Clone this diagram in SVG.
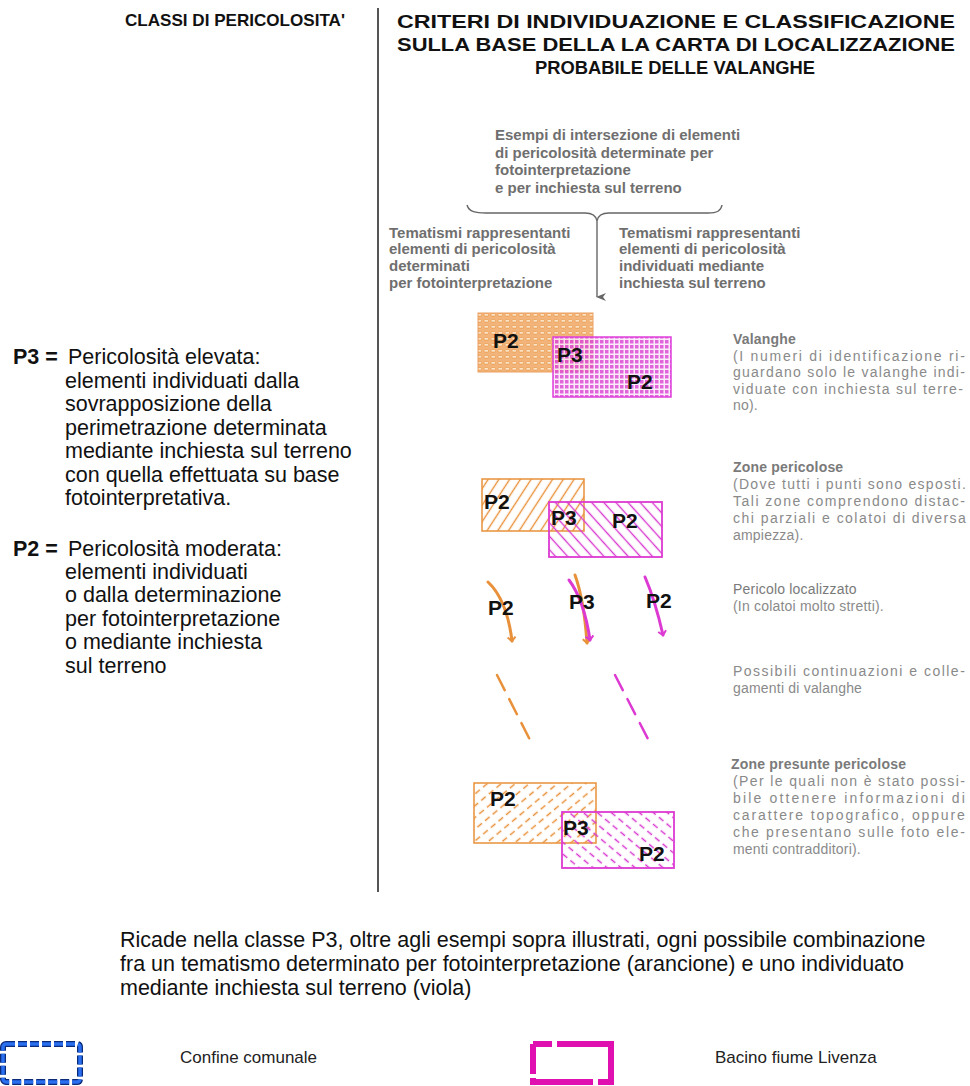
<svg xmlns="http://www.w3.org/2000/svg" width="970" height="1086" viewBox="0 0 970 1086">
<style>
.hdr{font-family:"Liberation Sans",Arial,sans-serif;font-weight:bold;font-size:17px;fill:#111}
.hdr2{font-family:"Liberation Sans",Arial,sans-serif;font-weight:bold;font-size:19px;fill:#111}
.lt{font-family:"Liberation Sans",Arial,sans-serif;font-size:21.5px;fill:#111}
.b{font-weight:bold}
.gb{font-family:"Liberation Sans",Arial,sans-serif;font-weight:bold;font-size:15px;fill:#6f6f6f}
.gt{font-family:"Liberation Sans",Arial,sans-serif;font-weight:bold;font-size:14px;fill:#7a7a7a;letter-spacing:0.2px}
.gx{font-family:"Liberation Sans",Arial,sans-serif;font-size:14px;fill:#8a8a8a;letter-spacing:0.2px}
.pl{font-family:"Liberation Sans",Arial,sans-serif;font-weight:bold;font-size:21px;fill:#111}
.leg{font-family:"Liberation Sans",Arial,sans-serif;font-size:17px;fill:#222}
</style>
<defs>
<pattern id="dotsO" width="7" height="6" patternUnits="userSpaceOnUse">
<rect width="7" height="6" fill="#f2b47a"/>
<rect x="1" y="1.5" width="4.5" height="2.6" rx="1" fill="#fbe3c8" stroke="#e8923e" stroke-width="0.6"/>
</pattern>
<pattern id="gridM" width="5" height="5" patternUnits="userSpaceOnUse">
<rect width="5" height="5" fill="#fae6f8"/>
<rect width="3.5" height="3.5" fill="#dc4ad4"/>
</pattern>
<pattern id="hatchO" width="9" height="10" patternUnits="userSpaceOnUse" patternTransform="rotate(33)">
<line x1="4.5" y1="0" x2="4.5" y2="10" stroke="#e8913a" stroke-width="1.4"/>
</pattern>
<pattern id="hatchM" width="9" height="10" patternUnits="userSpaceOnUse" patternTransform="rotate(-42)">
<line x1="4.5" y1="0" x2="4.5" y2="10" stroke="#d83ad0" stroke-width="1.4"/>
</pattern>
<pattern id="dashO" width="9" height="10" patternUnits="userSpaceOnUse" patternTransform="rotate(50)">
<line x1="4.5" y1="0" x2="4.5" y2="6" stroke="#e8913a" stroke-width="1.5"/>
</pattern>
<pattern id="dashM" width="9" height="10" patternUnits="userSpaceOnUse" patternTransform="rotate(-50)">
<line x1="4.5" y1="0" x2="4.5" y2="6" stroke="#d83ad0" stroke-width="1.5"/>
</pattern>
<marker id="ahG" markerWidth="8" markerHeight="10" refX="4" refY="9" orient="auto-start-reverse" markerUnits="userSpaceOnUse" viewBox="0 0 8 10">
<path d="M0,0 L4,10 L8,0 L4,3 Z" fill="#666"/>
</marker>
<marker id="ahO" markerWidth="10" markerHeight="10" refX="5" refY="5" orient="auto" markerUnits="userSpaceOnUse" viewBox="0 0 10 10">
<path d="M1,1 L5,5 L1,9" fill="none" stroke="#e8913a" stroke-width="2"/>
</marker>
<marker id="ahM" markerWidth="10" markerHeight="10" refX="5" refY="5" orient="auto" markerUnits="userSpaceOnUse" viewBox="0 0 10 10">
<path d="M1,1 L5,5 L1,9" fill="none" stroke="#dc3ad2" stroke-width="2"/>
</marker>
</defs>
<rect width="970" height="1086" fill="#ffffff"/>

<g id="headers">
<text class="hdr" x="235" y="26" text-anchor="middle" textLength="220" lengthAdjust="spacingAndGlyphs">CLASSI DI PERICOLOSITA'</text>
<text class="hdr2" x="676" y="28" text-anchor="middle" textLength="558" lengthAdjust="spacingAndGlyphs">CRITERI DI INDIVIDUAZIONE E CLASSIFICAZIONE</text>
<text class="hdr2" x="676" y="51" text-anchor="middle" textLength="558" lengthAdjust="spacingAndGlyphs">SULLA BASE DELLA LA CARTA DI LOCALIZZAZIONE</text>
<text class="hdr2" x="675" y="74" text-anchor="middle" textLength="280" lengthAdjust="spacingAndGlyphs">PROBABILE DELLE VALANGHE</text>
</g>

<g id="divider">
<line x1="378" y1="8" x2="378" y2="892" stroke="#555" stroke-width="2"/>
</g>

<g id="legend-left">
<text class="lt" x="13" y="364"><tspan class="b">P3 =</tspan><tspan x="68">Pericolosità elevata:</tspan></text>
<text class="lt" x="65" y="388">elementi individuati dalla</text>
<text class="lt" x="65" y="411">sovrapposizione della</text>
<text class="lt" x="65" y="435">perimetrazione determinata</text>
<text class="lt" x="65" y="458">mediante inchiesta sul terreno</text>
<text class="lt" x="65" y="482">con quella effettuata su base</text>
<text class="lt" x="65" y="505">fotointerpretativa.</text>
<text class="lt" x="13" y="556"><tspan class="b">P2 =</tspan><tspan x="68">Pericolosità moderata:</tspan></text>
<text class="lt" x="65" y="579">elementi individuati</text>
<text class="lt" x="65" y="602">o dalla determinazione</text>
<text class="lt" x="65" y="626">per fotointerpretazione</text>
<text class="lt" x="65" y="649">o mediante inchiesta</text>
<text class="lt" x="65" y="673">sul terreno</text>
</g>

<g id="brace-block">
<text class="gb" x="495" y="140">Esempi di intersezione di elementi</text>
<text class="gb" x="495" y="158">di pericolosità determinate per</text>
<text class="gb" x="495" y="175">fotointerpretazione</text>
<text class="gb" x="495" y="193">e per inchiesta sul terreno</text>
<text class="gb" x="389" y="238">Tematismi rappresentanti</text>
<text class="gb" x="389" y="254">elementi di pericolosità</text>
<text class="gb" x="389" y="271">determinati</text>
<text class="gb" x="389" y="288">per fotointerpretazione</text>
<text class="gb" x="619" y="238">Tematismi rappresentanti</text>
<text class="gb" x="619" y="254">elementi di pericolosità</text>
<text class="gb" x="619" y="271">individuati mediante</text>
<text class="gb" x="619" y="288">inchiesta sul terreno</text>
</g>

<g id="connectors">
<path d="M467,205 C469,212 476,213 486,213 L585,213 C592,213 596,215 597,221 C598,215 602,213 609,213 L708,213 C717,213 721,211 722,205" fill="none" stroke="#666" stroke-width="1.4"/>
<line x1="597" y1="221" x2="597" y2="297" stroke="#666" stroke-width="1.4" marker-end="url(#ahG)"/>
</g>

<g id="valanghe">
<rect x="478" y="313" width="115" height="59" fill="url(#dotsO)" stroke="#eba060" stroke-width="1"/>
<rect x="553" y="337" width="118" height="60" fill="url(#gridM)" fill-opacity="0.85" stroke="#e040dc" stroke-width="1.5"/>
<text class="pl" x="493" y="348">P2</text>
<text class="pl" x="557" y="362">P3</text>
<text class="pl" x="627" y="389">P2</text>
<text class="gt" x="733" y="344">Valanghe</text>
<text class="gx" x="733" y="361" textLength="232" lengthAdjust="spacing">(I numeri di identificazione ri-</text>
<text class="gx" x="733" y="377" textLength="232" lengthAdjust="spacing">guardano solo le valanghe indi-</text>
<text class="gx" x="733" y="394" textLength="230" lengthAdjust="spacing">viduate con inchiesta sul terre-</text>
<text class="gx" x="733" y="410">no).</text>
</g>

<g id="zone-pericolose">
<rect x="482" y="479" width="102" height="52" fill="url(#hatchO)" stroke="#e8913a" stroke-width="1.5"/>
<rect x="549" y="502" width="113" height="55" fill="url(#hatchM)" stroke="#dc3ad2" stroke-width="1.8"/>
<text class="pl" x="484" y="509">P2</text>
<text class="pl" x="551" y="525">P3</text>
<text class="pl" x="612" y="528">P2</text>
<text class="gt" x="733" y="472">Zone pericolose</text>
<text class="gx" x="733" y="489" textLength="233" lengthAdjust="spacing">(Dove tutti i punti sono esposti.</text>
<text class="gx" x="733" y="506" textLength="232" lengthAdjust="spacing">Tali zone comprendono distac-</text>
<text class="gx" x="733" y="523" textLength="233" lengthAdjust="spacing">chi parziali e colatoi di diversa</text>
<text class="gx" x="733" y="540">ampiezza).</text>
</g>

<g id="pericolo-localizzato">
<path d="M488,582 Q507,600 512,641" fill="none" stroke="#e8913a" stroke-width="3" stroke-linecap="round" marker-end="url(#ahO)"/>
<path d="M575,575 Q584,600 587,643" fill="none" stroke="#e8913a" stroke-width="3" stroke-linecap="round" marker-end="url(#ahO)"/>
<path d="M569,580 Q584,600 590,640" fill="none" stroke="#dc3ad2" stroke-width="3" stroke-linecap="round" marker-end="url(#ahM)"/>
<path d="M645,577 Q655,600 663,635" fill="none" stroke="#dc3ad2" stroke-width="3" stroke-linecap="round" marker-end="url(#ahM)"/>
<text class="pl" x="488" y="615">P2</text>
<text class="pl" x="569" y="609">P3</text>
<text class="pl" x="646" y="608">P2</text>
<text class="gx" x="733" y="594" style="fill:#7a7a7a">Pericolo localizzato</text>
<text class="gx" x="733" y="611">(In colatoi molto stretti).</text>
</g>

<g id="continuazioni">
<line x1="497" y1="675" x2="530" y2="740" stroke="#e8913a" stroke-width="2.5" stroke-linecap="round" stroke-dasharray="17 10"/>
<line x1="615" y1="675" x2="648" y2="739" stroke="#dc3ad2" stroke-width="2.5" stroke-linecap="round" stroke-dasharray="17 10"/>
<text class="gx" x="733" y="676" textLength="232" lengthAdjust="spacing">Possibili continuazioni e colle-</text>
<text class="gx" x="733" y="693">gamenti di valanghe</text>
</g>

<g id="zone-presunte">
<rect x="474" y="783" width="122" height="60" fill="url(#dashO)" stroke="#e8913a" stroke-width="1.5"/>
<rect x="562" y="812" width="112" height="56" fill="url(#dashM)" stroke="#dc3ad2" stroke-width="1.8"/>
<text class="pl" x="490" y="806">P2</text>
<text class="pl" x="563" y="835">P3</text>
<text class="pl" x="639" y="861">P2</text>
<text class="gt" x="731" y="769">Zone presunte pericolose</text>
<text class="gx" x="733" y="786" textLength="232" lengthAdjust="spacing">(Per le quali non è stato possi-</text>
<text class="gx" x="733" y="803" textLength="232" lengthAdjust="spacing">bile ottenere informazioni di</text>
<text class="gx" x="733" y="820" textLength="232" lengthAdjust="spacing">carattere topografico, oppure</text>
<text class="gx" x="733" y="837" textLength="232" lengthAdjust="spacing">che presentano sulle foto ele-</text>
<text class="gx" x="733" y="854">menti contradditori).</text>
</g>

<g id="note">
<text class="lt" x="120" y="947">Ricade nella classe P3, oltre agli esempi sopra illustrati, ogni possibile combinazione</text>
<text class="lt" x="120" y="971">fra un tematismo determinato per fotointerpretazione (arancione) e uno individuato</text>
<text class="lt" x="120" y="995">mediante inchiesta sul terreno (viola)</text>
</g>

<g id="legend-confine">
<rect x="3" y="1044" width="77" height="38" rx="3" fill="none" stroke="#0b2a78" stroke-width="6" stroke-dasharray="9 3"/>
<rect x="3" y="1044" width="77" height="38" rx="3" fill="none" stroke="#2a6ff0" stroke-width="3.5" stroke-dasharray="9 3"/>
<text class="leg" x="180" y="1063">Confine comunale</text>
</g>

<g id="legend-bacino">
<path d="M533,1044 L611,1044 L611,1082 L533,1082 Z" fill="none" stroke="#e010b0" stroke-width="6" stroke-dasharray="19 5 105 5 64 4 30 0"/>
<text class="leg" x="715" y="1063">Bacino fiume Livenza</text>
</g>
</svg>
